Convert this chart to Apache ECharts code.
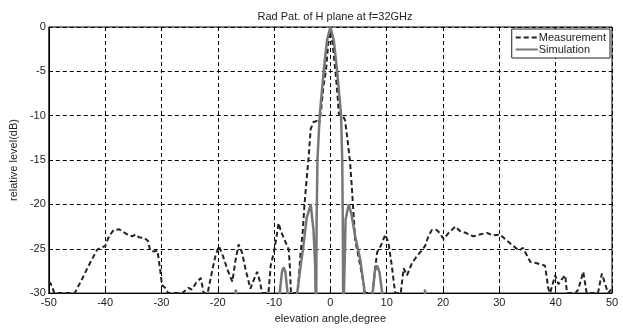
<!DOCTYPE html>
<html>
<head>
<meta charset="utf-8">
<script src="https://cdn.jsdelivr.net/npm/echarts@6/dist/echarts.min.js"></script>
<style>
html, body { margin: 0; padding: 0; background: #fff; }
#chart { width: 623px; height: 329px; }
</style>
</head>
<body>
<div id="chart"></div>
<script>
// measured pattern (dashed)
const measAngle = [-50, -49.6, -49, -45.4, -44, -43, -42, -41.4, -40.5, -40, -39.3, -38.5, -37.5, -36.8, -36, -35.2, -34.6, -34, -33, -32.4, -32, -31.3, -30.7, -30.2, -29.9, -29.2, -28.8,
  -26.3, -25.2, -24.6, -23.8, -23, -22.5, -21.8, -20.9, -20.4, -19.8, -19.2, -18.2, -17.4, -16.9, -16.3, -15.7, -15, -14.2, -13.6, -13, -12.6, -12.1,
  -11, -10.6, -10, -9.6, -9.2, -8.8, -8, -7.4, -7.2, -7.0, -5.8, -5.3, -4.9, -4.6, -4.2, -3.9, -3.5, -3.0, -2.4, -2.0, -1.6, -1.2, -0.8, -0.4, 0,
  0.4, 0.9, 1.3, 1.5, 2.1, 2.6, 3.0, 3.5, 3.8, 4.0, 4.4, 5.3, 6.2, 7.5, 7.9, 8.3, 9.0, 9.75, 10.3, 10.9, 11.5, 12.5, 13, 13.6, 14.5, 15.4, 16.2, 16.8,
  17.4, 18.0, 18.9, 19.5, 20.1, 21, 22.2, 23, 24, 25.4, 26.5, 27.8, 28.8, 30.1, 31, 32.5, 33.5, 34.2, 35.5, 36.5, 38.1, 38.7, 39.0, 39.9, 40.5, 41,
  41.7, 42, 43.5, 44, 44.9, 45.5, 47.5, 48.2, 48.7, 49.3, 50];
const measLevel = [-28.7, -29.0, -30, -30, -28.3, -27, -25.8, -25.1, -24.8, -24.7, -23.6, -22.9, -22.8, -23.1, -23.4, -23.6, -23.4, -23.7, -23.8, -24.1, -25.2, -25.3, -25.2, -27.5, -29.1, -29.5, -30,
  -30, -29.4, -29.6, -28.8, -28.3, -30, -30, -27.2, -25.8, -24.7, -25.6, -27.5, -28.7, -26.5, -24.5, -25.4, -27.5, -29.5, -28.5, -27.6, -28.5, -30,
  -30, -26.9, -25.3, -23.8, -22.1, -23, -24.2, -25.1, -27, -30, -30, -25.5, -23, -20, -17, -15, -11.5, -10.7, -10.6, -11, -9, -6.5, -5, -2, 0,
  -2, -5, -8, -9.8, -9.9, -10.5, -12.5, -15.3, -18, -20, -24, -26.9, -30, -30, -27.5, -25.4, -24.6, -23.4, -24.3, -26.9, -30, -30, -27.2, -28, -26.6, -25.8, -25.2, -24.7,
  -23.6, -22.9, -22.9, -23.3, -23.9, -23.2, -22.5, -23, -23.2, -23.6, -23.4, -23.2, -23.5, -23.4, -23.9, -24.7, -25.2, -24.9, -26.5, -26.6, -26.9, -29.5, -30, -28, -29, -28.5,
  -28, -30, -30, -29.6, -27.6, -30, -30, -27.8, -28.8, -30, -29.5];

// simulated pattern (solid), values under -30 are clipped by the axis
const simAngle = [-50, -17.3, -16.8, -16.3, -9.4, -9.0, -8.6, -8.3, -8.0, -7.6, -7.2, -6.2, -5.9, -5.4, -4.8, -4.2, -3.5, -3.0, -2.7, -2.55,
  -2.45, -2.3, -1.9, -1.2, -0.6, 0, 0.6, 1.2, 1.9, 2.1, 2.2, 2.3, 2.4, 2.7, 3.25, 3.7, 4.4, 5.3, 6.0, 6.3,
  7.2, 7.5, 7.9, 8.3, 8.7, 9.2, 9.5, 16.3, 16.8, 17.3, 50];
const simLevel = [-40, -40, -29.6, -40, -40, -30, -27.6, -27.1, -27.6, -30, -40, -40, -30, -27.5, -24.7, -21.5, -20, -22.9, -27, -35,
  -22, -15, -10, -5, -1.5, 0, -1.5, -5, -10, -15, -22, -35, -30, -21.7, -20, -21, -23.6, -26.2, -29.5, -40,
  -40, -30, -27.5, -26.9, -27.6, -30, -40, -40, -29.6, -40, -40];

const xTicks = [-50, 50, 10];
const yTicks = [-30, 0, 5];

const font = 'Liberation Sans, Arial, sans-serif';
const chart = echarts.init(document.getElementById('chart'));
chart.setOption({
  animation: false,
  backgroundColor: '#fff',
  title: {
    text: 'Rad Pat. of H plane at f=32GHz',
    left: 330, top: 6, textAlign: 'center',
    textStyle: { fontFamily: font, fontSize: 11, fontWeight: 'normal', color: '#222' }
  },
  legend: {
    right: 13, top: 29,
    orient: 'vertical',
    itemWidth: 22, itemHeight: 10, itemGap: 1,
    padding: [3, 4, 3, 3],
    borderColor: '#222', borderWidth: 1,
    backgroundColor: '#fff',
    itemStyle: { opacity: 0 },
    textStyle: { fontFamily: font, fontSize: 11, color: '#222', padding: [0, 0, 0, -4] },
    data: ['Measurement', 'Simulation']
  },
  grid: {
    left: 48, right: 11, top: 27, bottom: 31,
    show: true, borderColor: '#000', borderWidth: 1
  },
  xAxis: {
    type: 'value', min: xTicks[0], max: xTicks[1], interval: xTicks[2],
    name: 'elevation angle,degree', nameLocation: 'middle', nameGap: 18,
    nameTextStyle: { fontFamily: font, fontSize: 11, color: '#222' },
    axisLine: { onZero: false, lineStyle: { color: '#000' } },
    axisTick: { inside: true, length: 4, lineStyle: { color: '#000' } },
    axisLabel: { fontFamily: font, fontSize: 11, color: '#222', margin: 4 },
    splitLine: { show: true, lineStyle: { color: '#000', type: [4, 3], width: 1 } }
  },
  yAxis: {
    type: 'value', min: yTicks[0], max: yTicks[1], interval: yTicks[2],
    name: 'relative level(dB)', nameLocation: 'middle', nameGap: 24,
    nameTextStyle: { fontFamily: font, fontSize: 11, color: '#222' },
    axisLine: { show: true, onZero: false, lineStyle: { color: '#000' } },
    axisTick: { show: true, inside: true, length: 4, lineStyle: { color: '#000' } },
    axisLabel: { fontFamily: font, fontSize: 11, color: '#222', margin: 3 },
    splitLine: { show: true, lineStyle: { color: '#000', type: [4, 3], width: 1 } }
  },
  series: [
    {
      name: 'Measurement', type: 'line', symbol: 'none', clip: true,
      data: measAngle.map((a, i) => [a, measLevel[i]]),
      lineStyle: { color: '#222', width: 2, type: [5, 3] },
      itemStyle: { color: '#222' }
    },
    {
      name: 'Simulation', type: 'line', symbol: 'none', clip: true,
      data: simAngle.map((a, i) => [a, simLevel[i]]),
      lineStyle: { color: '#777', width: 2.5 },
      itemStyle: { color: '#777' }
    }
  ]
});
</script>
</body>
</html>
